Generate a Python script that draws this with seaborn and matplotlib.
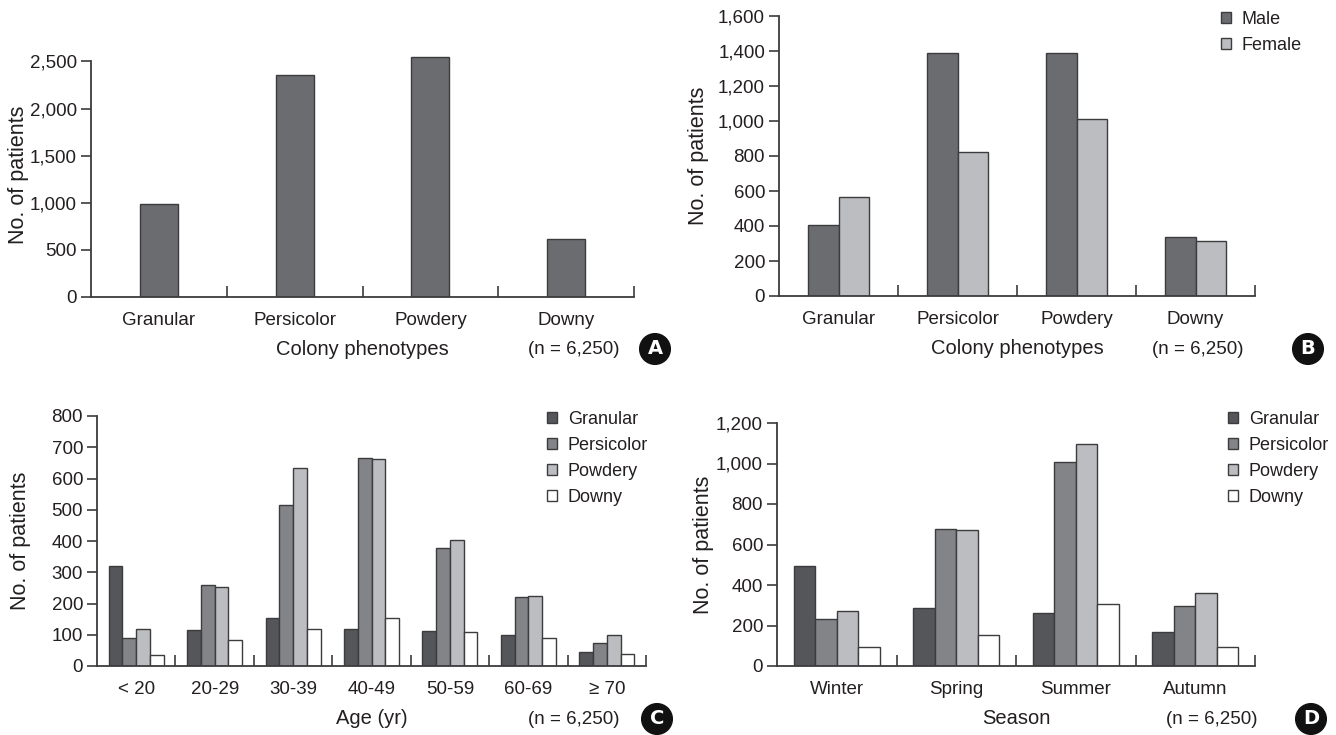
import matplotlib
matplotlib.use("Agg")
import matplotlib.pyplot as plt
from matplotlib import font_manager
from matplotlib.ticker import FuncFormatter, FixedLocator
import seaborn as sns
import pandas as pd

# ---- data -------------------------------------------------------------
phenotypes = ["Granular", "Persicolor", "Powdery", "Downy"]
total_counts = [985, 2355, 2542, 618]

sexes = ["Male", "Female"]
male_counts = [403, 1386, 1386, 339]
female_counts = [568, 822, 1011, 314]

age_groups = ["< 20", "20-29", "30-39", "40-49", "50-59", "60-69", "\u2265 70"]
age_granular = [319, 114, 154, 120, 113, 100, 45]
age_persicolor = [90, 258, 514, 667, 378, 221, 75]
age_powdery = [117, 254, 635, 662, 402, 224, 100]
age_downy = [36, 84, 120, 154, 108, 91, 40]

seasons = ["Winter", "Spring", "Summer", "Autumn"]
season_granular = [493, 287, 261, 166]
season_persicolor = [233, 675, 1008, 296]
season_powdery = [273, 672, 1098, 360]
season_downy = [95, 154, 307, 95]

n_label = "(n = 6,250)"

# ---- style ------------------------------------------------------------
sns.set_theme(style="white")
installed = {f.name for f in font_manager.fontManager.ttflist}
family = [f for f in ["Liberation Sans Narrow", "Liberation Sans", "DejaVu Sans"] if f in installed]
plt.rcParams["font.family"] = family
TXT = "#231f20"
EDGE = "#3c3c3e"
plt.rcParams["text.color"] = TXT
plt.rcParams["axes.labelcolor"] = TXT
plt.rcParams["xtick.color"] = TXT
plt.rcParams["ytick.color"] = TXT

FS = 13.5        # tick labels
FS_LAB = 14.5    # axis titles
FS_LEG = 13      # legend entries
PHENO_COLORS = ["#55565a", "#838488", "#bcbdc1", "#ffffff"]

W, H = 1336, 735
fig = plt.figure(figsize=(W / 100, H / 100), dpi=100)
fig.patch.set_facecolor("white")


def rect(left, right, bottom, top):
    return [left / W, 1 - bottom / H, (right - left) / W, (bottom - top) / H]


def style_axis(ax, ncat, ymax_tick, ystep, ylim_top):
    ax.set_xlim(-0.5, ncat - 0.5)
    ax.set_ylim(0, ylim_top)
    for s in ["top", "right"]:
        ax.spines[s].set_visible(False)
    for s in ["left", "bottom"]:
        ax.spines[s].set_color(EDGE)
        ax.spines[s].set_linewidth(1.3)
    ax.spines["left"].set_bounds(0, ymax_tick)
    ax.set_yticks(list(range(0, ymax_tick + 1, ystep)))
    ax.yaxis.set_major_formatter(FuncFormatter(lambda v, p: f"{int(v):,}"))
    ax.tick_params(axis="y", which="major", direction="out", length=7,
                   width=1.2, color=EDGE, labelsize=FS, pad=3, left=True)
    ax.tick_params(axis="x", which="major", length=0, labelsize=FS, pad=11, bottom=True)
    ax.xaxis.set_minor_locator(FixedLocator([i + 0.5 for i in range(ncat)]))
    ax.tick_params(axis="x", which="minor", direction="in", length=8,
                   width=1.2, color=EDGE, bottom=True)
    ax.grid(False)
    ax.set_facecolor("white")
    ax.set_ylabel("No. of patients", fontsize=FS_LAB + 1, labelpad=10)


def annotate(ax, xlabel, n_right, circ_x, y, letter):
    ax.set_xlabel(xlabel, fontsize=FS_LAB, labelpad=8)
    fig.text(n_right / W, 1 - y / H, n_label, fontsize=FS, ha="right", va="center")
    fig.text(circ_x / W, 1 - y / H, letter, fontsize=14, fontweight="bold",
             color="white", ha="center", va="center", family="DejaVu Sans",
             bbox=dict(boxstyle="circle,pad=0.3", fc="#111111", ec="#111111"))


def add_legend(ax, x_px, y_px):
    handles, labels = ax.get_legend_handles_labels()
    for h in handles:
        h.set_edgecolor(EDGE)
        h.set_linewidth(1.0)
    ax.legend(handles, labels, loc="upper left",
              bbox_to_anchor=(x_px / W, 1 - y_px / H),
              bbox_transform=fig.transFigure, frameon=False,
              fontsize=FS_LEG, handlelength=0.56, handleheight=0.56,
              handletextpad=0.6, labelspacing=0.5, borderpad=0,
              borderaxespad=0)


# ---- A: totals by phenotype ----------------------------------------------
axA = fig.add_axes(rect(91, 634, 297, 52))
dfA = pd.DataFrame({"phenotype": phenotypes, "count": total_counts})
sns.barplot(data=dfA, x="phenotype", y="count", color="#6b6c70", width=0.28,
            edgecolor=EDGE, linewidth=1.0, saturation=1, ax=axA)
style_axis(axA, 4, 2500, 500, 2600)
axA.yaxis.set_label_coords(-0.114, 0.5)
annotate(axA, "Colony phenotypes", 620, 655, 349, "A")

# ---- B: by sex ------------------------------------------------------------
axB = fig.add_axes(rect(779, 1255, 296, 16))
dfB = pd.DataFrame({
    "phenotype": phenotypes * 2,
    "sex": ["Male"] * 4 + ["Female"] * 4,
    "count": male_counts + female_counts,
})
sns.barplot(data=dfB, x="phenotype", y="count", hue="sex", hue_order=sexes,
            palette=["#6b6c70", "#bcbdc1"], width=0.52, edgecolor=EDGE,
            linewidth=1.0, saturation=1, ax=axB)
style_axis(axB, 4, 1600, 200, 1600)
axB.yaxis.set_label_coords(-0.147, 0.5)
add_legend(axB, 1221, 11)
annotate(axB, "Colony phenotypes", 1243, 1308, 349, "B")

# ---- C: by age group ------------------------------------------------------
axC = fig.add_axes(rect(97, 646, 666, 416))
dfC = pd.DataFrame({
    "age": age_groups * 4,
    "phenotype": sum([[p] * len(age_groups) for p in phenotypes], []),
    "count": age_granular + age_persicolor + age_powdery + age_downy,
})
sns.barplot(data=dfC, x="age", y="count", hue="phenotype", hue_order=phenotypes,
            order=age_groups, palette=PHENO_COLORS, width=0.7, edgecolor=EDGE,
            linewidth=1.0, saturation=1, ax=axC)
style_axis(axC, 7, 800, 100, 800)
axC.yaxis.set_label_coords(-0.12, 0.5)
add_legend(axC, 547, 411)
annotate(axC, "Age (yr)", 620, 657, 719, "C")

# ---- D: by season ---------------------------------------------------------
axD = fig.add_axes(rect(777, 1255, 666, 423))
dfD = pd.DataFrame({
    "season": seasons * 4,
    "phenotype": sum([[p] * len(seasons) for p in phenotypes], []),
    "count": season_granular + season_persicolor + season_powdery + season_downy,
})
sns.barplot(data=dfD, x="season", y="count", hue="phenotype", hue_order=phenotypes,
            order=seasons, palette=PHENO_COLORS, width=0.72, edgecolor=EDGE,
            linewidth=1.0, saturation=1, ax=axD)
style_axis(axD, 4, 1200, 200, 1200)
axD.yaxis.set_label_coords(-0.132, 0.5)
add_legend(axD, 1228, 411)
annotate(axD, "Season", 1258, 1311, 719, "D")

fig.savefig("out.png", dpi=100, facecolor="white")
